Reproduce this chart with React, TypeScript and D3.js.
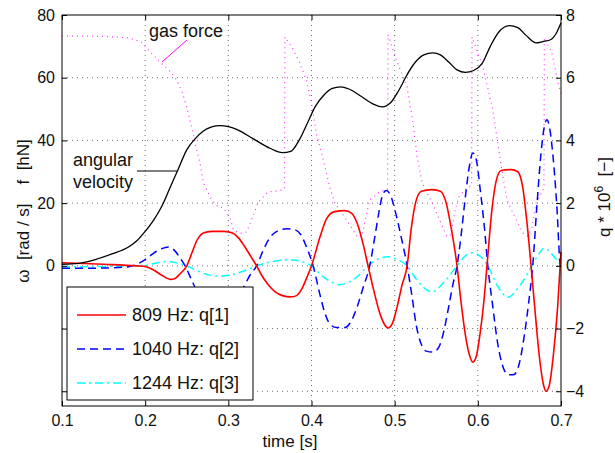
import React, { useEffect, useRef } from 'react';
import * as d3 from 'd3';

// angular velocity [rad/s] (left axis)
const tOmega = [0.1, 0.12, 0.14, 0.16, 0.18, 0.19, 0.2, 0.21, 0.22, 0.23, 0.24, 0.25, 0.26, 0.27, 0.28, 0.29, 0.3, 0.31, 0.33, 0.35, 0.365, 0.375, 0.385, 0.395, 0.405, 0.415, 0.425, 0.435, 0.445, 0.46, 0.475, 0.485, 0.495, 0.505, 0.515, 0.525, 0.535, 0.546, 0.555, 0.565, 0.575, 0.585, 0.595, 0.605, 0.615, 0.625, 0.638, 0.648, 0.658, 0.67, 0.678, 0.688, 0.695, 0.7];
const omega = [0.5, 0.8, 2.0, 3.8, 6.0, 8.0, 11.0, 14.5, 19, 25, 31, 37, 40.5, 43, 44.3, 44.7, 44.4, 43.5, 40.5, 37.5, 36.1, 36.5, 40, 45.5, 51, 54.5, 56.6, 57.1, 56.4, 54, 51.5, 50.7, 52, 56, 61, 65, 67.3, 67.9, 67.3, 65, 62.5, 61.7, 62.3, 64.5, 70, 74.5, 76.6, 76, 73.5, 71.1, 71.5, 72.2, 74.5, 77.5];

// gas force [hN] (left axis)
const tForce = [0.1, 0.15, 0.18, 0.195, 0.205, 0.218, 0.23, 0.238, 0.245, 0.25, 0.256, 0.262, 0.266, 0.27, 0.278, 0.282, 0.288, 0.294, 0.302, 0.306, 0.314, 0.322, 0.328, 0.336, 0.348, 0.362, 0.3675, 0.368, 0.376, 0.386, 0.394, 0.4, 0.406, 0.414, 0.422, 0.428, 0.442, 0.455, 0.46, 0.465, 0.47, 0.482, 0.4915, 0.492, 0.502, 0.515, 0.522, 0.527, 0.533, 0.546, 0.555, 0.563, 0.568, 0.572, 0.577, 0.587, 0.5925, 0.593, 0.606, 0.618, 0.627, 0.635, 0.642, 0.654, 0.66, 0.665, 0.67, 0.678, 0.6795, 0.68, 0.689, 0.696, 0.7];
const force = [73.3, 73.2, 72.7, 71.5, 68.5, 65, 62, 59.3, 55, 50.7, 44, 37, 32.8, 26.5, 22, 20.4, 18.8, 18.5, 15.3, 11.5, 10.3, 10.8, 14.7, 20.4, 23.6, 24, 24.5, 73, 70, 64.7, 59, 52, 42, 34, 25, 20, 14.7, 9.3, 9, 15, 21, 23.6, 24.5, 73.7, 65.7, 57, 45.6, 34.8, 26.5, 19.5, 14, 9.3, 10, 17, 22, 25, 25.5, 73, 63.5, 49.8, 33.8, 21, 17, 10.5, 9.5, 12, 20, 24, 25, 72.7, 68, 59, 55];

// modal coordinates q * 10^6 (right axis)
const tQ1 = [0.1, 0.15, 0.19, 0.2, 0.21, 0.22, 0.23, 0.236, 0.242, 0.25, 0.256, 0.262, 0.27, 0.28, 0.295, 0.305, 0.312, 0.32, 0.327, 0.334, 0.34, 0.348, 0.356, 0.365, 0.375, 0.382, 0.388, 0.394, 0.4, 0.41, 0.418, 0.428, 0.44, 0.448, 0.455, 0.462, 0.468, 0.475, 0.482, 0.488, 0.492, 0.497, 0.503, 0.509, 0.515, 0.52, 0.525, 0.532, 0.545, 0.555, 0.562, 0.568, 0.575, 0.58, 0.585, 0.59, 0.594, 0.598, 0.603, 0.607, 0.611, 0.617, 0.622, 0.628, 0.64, 0.648, 0.654, 0.659, 0.664, 0.669, 0.674, 0.679, 0.682, 0.686, 0.691, 0.696, 0.7];
const q1 = [0.1, 0.05, 0.0, -0.02, -0.13, -0.3, -0.43, -0.4, -0.25, 0, 0.4, 0.8, 1.05, 1.1, 1.1, 1.05, 0.9, 0.6, 0.3, 0, -0.3, -0.6, -0.82, -0.95, -0.99, -0.95, -0.75, -0.4, 0, 0.9, 1.5, 1.73, 1.76, 1.68, 1.35, 0.7, 0, -0.8, -1.5, -1.88, -1.98, -1.85, -1.3, -0.6, 0, 1.2, 2.0, 2.38, 2.43, 2.38, 2.0, 1.2, 0, -1.2, -2.2, -2.85, -3.07, -2.9, -2.1, -1.2, 0, 1.8, 2.7, 3.04, 3.07, 3.0, 2.5, 1.4, 0, -1.5, -2.9, -3.8, -4.0, -3.8, -2.8, -1.3, 0.45];

const tQ2 = [0.1, 0.15, 0.18, 0.19, 0.2, 0.21, 0.22, 0.228, 0.235, 0.242, 0.248, 0.255, 0.262, 0.27, 0.28, 0.29, 0.3, 0.31, 0.318, 0.326, 0.334, 0.342, 0.35, 0.36, 0.37, 0.38, 0.387, 0.394, 0.402, 0.41, 0.416, 0.422, 0.43, 0.44, 0.447, 0.455, 0.462, 0.47, 0.476, 0.481, 0.486, 0.49, 0.495, 0.502, 0.508, 0.515, 0.521, 0.526, 0.532, 0.538, 0.546, 0.553, 0.559, 0.565, 0.57, 0.575, 0.58, 0.585, 0.59, 0.594, 0.598, 0.603, 0.608, 0.612, 0.618, 0.624, 0.63, 0.636, 0.643, 0.65, 0.656, 0.661, 0.666, 0.671, 0.676, 0.68, 0.683, 0.686, 0.69, 0.695, 0.699, 0.7];
const q2 = [-0.08, -0.07, -0.03, 0.05, 0.2, 0.4, 0.55, 0.6, 0.5, 0.25, 0, -0.4, -0.8, -1.1, -1.25, -1.3, -1.25, -1.05, -0.7, -0.3, 0, 0.5, 0.9, 1.12, 1.18, 1.15, 1.0, 0.6, 0, -0.9, -1.5, -1.85, -1.97, -1.97, -1.8, -1.3, -0.7, 0, 0.9, 1.7, 2.3, 2.4, 2.25, 1.6, 0.9, 0, -1.0, -1.9, -2.5, -2.72, -2.75, -2.6, -2.1, -1.3, -0.6, 0, 1.0, 2.2, 3.2, 3.6, 3.4, 2.4, 1.2, 0, -1.3, -2.5, -3.2, -3.47, -3.47, -3.1, -2.2, -1.2, 0, 1.9, 3.6, 4.45, 4.66, 4.45, 3.6, 1.9, 0, -0.15];

const tQ3 = [0.1, 0.15, 0.2, 0.215, 0.228, 0.24, 0.25, 0.262, 0.275, 0.29, 0.305, 0.32, 0.334, 0.35, 0.365, 0.378, 0.39, 0.4, 0.412, 0.424, 0.434, 0.445, 0.457, 0.468, 0.48, 0.492, 0.503, 0.515, 0.528, 0.545, 0.56, 0.575, 0.585, 0.594, 0.603, 0.612, 0.624, 0.636, 0.65, 0.665, 0.674, 0.68, 0.688, 0.7];
const q3 = [-0.03, -0.02, 0.02, 0.1, 0.14, 0.08, 0, -0.15, -0.28, -0.33, -0.28, -0.15, 0, 0.12, 0.18, 0.19, 0.12, 0, -0.3, -0.52, -0.6, -0.52, -0.3, 0, 0.22, 0.29, 0.2, 0, -0.5, -0.83, -0.5, 0, 0.32, 0.42, 0.3, 0, -0.65, -1.0, -0.65, 0, 0.4, 0.57, 0.4, 0];

const xTicks = [0.1, 0.2, 0.3, 0.4, 0.5, 0.6, 0.7];
const leftTicks = [-40, -20, 0, 20, 40, 60, 80];
const rightTicks = [-4, -2, 0, 2, 4, 6, 8];
const legendLabels = ['809 Hz: q[1]', '1040 Hz: q[2]', '1244 Hz: q[3]'];

const W = 615;
const H = 453;
const font = '"Liberation Sans", Arial, Helvetica, sans-serif';

const App = () => {
  const svgRef = useRef<SVGSVGElement>(null);

  useEffect(() => {
    const svg = d3.select(svgRef.current);
    svg.selectAll('*').remove();

    const left = 62, right = 561, top = 15, bottom = 406;
    const x = d3.scaleLinear().domain([0.1, 0.7]).range([left, right]);
    const yL = d3.scaleLinear().domain([-44.7, 80]).range([bottom, top]);
    const yR = d3.scaleLinear().domain([-4.47, 8]).range([bottom, top]);

    svg.append('rect').attr('width', W).attr('height', H).attr('fill', '#fff');

    // grid
    const grid = svg.append('g').attr('stroke', '#333').attr('stroke-width', 0.7).attr('stroke-dasharray', '1,4');
    xTicks.slice(1, -1).forEach((t) => {
      grid.append('line').attr('x1', x(t)).attr('x2', x(t)).attr('y1', top).attr('y2', bottom);
    });
    leftTicks.slice(0, -1).forEach((v) => {
      grid.append('line').attr('x1', left).attr('x2', right).attr('y1', yL(v)).attr('y2', yL(v));
    });

    const lineOf = (xs: number[], ys: number[], yScale: d3.ScaleLinear<number, number>, curve: d3.CurveFactory) =>
      d3
        .line<number>()
        .x((d, i) => x(xs[i]))
        .y((d) => yScale(d))
        .curve(curve)(ys);

    const plot = svg.append('g').attr('fill', 'none');

    plot
      .append('path')
      .attr('d', lineOf(tForce, force, yL, d3.curveLinear))
      .attr('stroke', '#ff33ff')
      .attr('stroke-width', 1.2)
      .attr('stroke-dasharray', '1,4');

    plot
      .append('path')
      .attr('d', lineOf(tQ3, q3, yR, d3.curveMonotoneX))
      .attr('stroke', '#00ffff')
      .attr('stroke-width', 1.5)
      .attr('stroke-dasharray', '8,4,2,4');

    plot
      .append('path')
      .attr('d', lineOf(tQ2, q2, yR, d3.curveMonotoneX))
      .attr('stroke', '#0000ff')
      .attr('stroke-width', 1.5)
      .attr('stroke-dasharray', '8,5');

    plot
      .append('path')
      .attr('d', lineOf(tQ1, q1, yR, d3.curveMonotoneX))
      .attr('stroke', '#ff0000')
      .attr('stroke-width', 1.6);

    plot
      .append('path')
      .attr('d', lineOf(tOmega, omega, yL, d3.curveMonotoneX))
      .attr('stroke', '#000')
      .attr('stroke-width', 1.3);

    // axes
    const styleAxis = (g: d3.Selection<SVGGElement, unknown, null, undefined>) => {
      g.select('.domain').remove();
      g.selectAll('line').attr('stroke', '#000');
      g.selectAll('text').attr('font-family', font).attr('font-size', 16).attr('fill', '#111');
    };

    svg
      .append('g')
      .attr('transform', `translate(0,${bottom})`)
      .call(d3.axisBottom(x).tickValues(xTicks).tickSize(-5).tickPadding(9).tickFormat(d3.format('.1f')))
      .call(styleAxis);

    svg
      .append('g')
      .attr('transform', `translate(0,${top})`)
      .call(d3.axisTop(x).tickValues(xTicks).tickSize(-5).tickFormat(() => ''))
      .call(styleAxis);

    svg
      .append('g')
      .attr('transform', `translate(${left},0)`)
      .call(
        d3
          .axisLeft(yL)
          .tickValues(leftTicks)
          .tickSize(-5)
          .tickPadding(7)
          .tickFormat((d) => ((d as number) >= 0 ? String(d) : ''))
      )
      .call(styleAxis);

    svg
      .append('g')
      .attr('transform', `translate(${right},0)`)
      .call(d3.axisRight(yR).tickValues(rightTicks).tickSize(-5).tickPadding(5))
      .call(styleAxis);

    svg
      .append('rect')
      .attr('x', left)
      .attr('y', top)
      .attr('width', right - left)
      .attr('height', bottom - top)
      .attr('fill', 'none')
      .attr('stroke', '#000')
      .attr('stroke-width', 1);

    // annotations
    svg.append('line').attr('x1', 162).attr('y1', 62).attr('x2', 187).attr('y2', 40).attr('stroke', '#ff00ff').attr('stroke-width', 1);
    svg.append('line').attr('x1', 137).attr('y1', 171).attr('x2', 177).attr('y2', 171).attr('stroke', '#000').attr('stroke-width', 1);

    const txt = (s: string, tx: number, ty: number, size: number, anchor = 'start') =>
      svg
        .append('text')
        .attr('x', tx)
        .attr('y', ty)
        .attr('text-anchor', anchor)
        .attr('font-family', font)
        .attr('font-size', size)
        .attr('fill', '#111')
        .style('white-space', 'pre')
        .text(s);

    txt('gas force', 149, 37, 18);
    txt('angular', 73, 166, 18);
    txt('velocity', 73, 188, 18);
    txt('time [s]', 290, 447, 17, 'middle');

    svg
      .append('text')
      .attr('transform', 'translate(29,211) rotate(-90)')
      .attr('text-anchor', 'middle')
      .attr('font-family', font)
      .attr('font-size', 17)
      .attr('fill', '#111')
      .style('white-space', 'pre')
      .text('ω  [rad / s]    f  [hN]');

    const rl = svg
      .append('text')
      .attr('transform', 'translate(610,197) rotate(-90)')
      .attr('text-anchor', 'middle')
      .attr('font-family', font)
      .attr('font-size', 17)
      .attr('fill', '#111')
      .style('white-space', 'pre');
    rl.append('tspan').text('q * 10');
    rl.append('tspan').attr('font-size', 12).attr('dy', -7).text('6');
    rl.append('tspan').attr('dy', 7).text('  [−]');

    // legend
    const lg = svg.append('g');
    lg.append('rect').attr('x', 67).attr('y', 287).attr('width', 186).attr('height', 113).attr('fill', '#fff').attr('stroke', '#000').attr('stroke-width', 1);
    const styles = [
      { color: '#ff0000', dash: null },
      { color: '#0000ff', dash: '8,5' },
      { color: '#00ffff', dash: '8,4,2,4' },
    ];
    legendLabels.forEach((label, i) => {
      const ly = 315 + i * 34;
      const l = lg
        .append('line')
        .attr('x1', 77)
        .attr('x2', 126)
        .attr('y1', ly)
        .attr('y2', ly)
        .attr('stroke', styles[i].color)
        .attr('stroke-width', 1.5);
      if (styles[i].dash) l.attr('stroke-dasharray', styles[i].dash);
      lg.append('text')
        .attr('x', 132)
        .attr('y', ly)
        .attr('dy', '0.35em')
        .attr('font-family', font)
        .attr('font-size', 18)
        .attr('fill', '#111')
        .text(label);
    });
  }, []);

  return <svg ref={svgRef} width={W} height={H} style={{ position: 'absolute', left: 0, top: 0 }} />;
};

export default App;
